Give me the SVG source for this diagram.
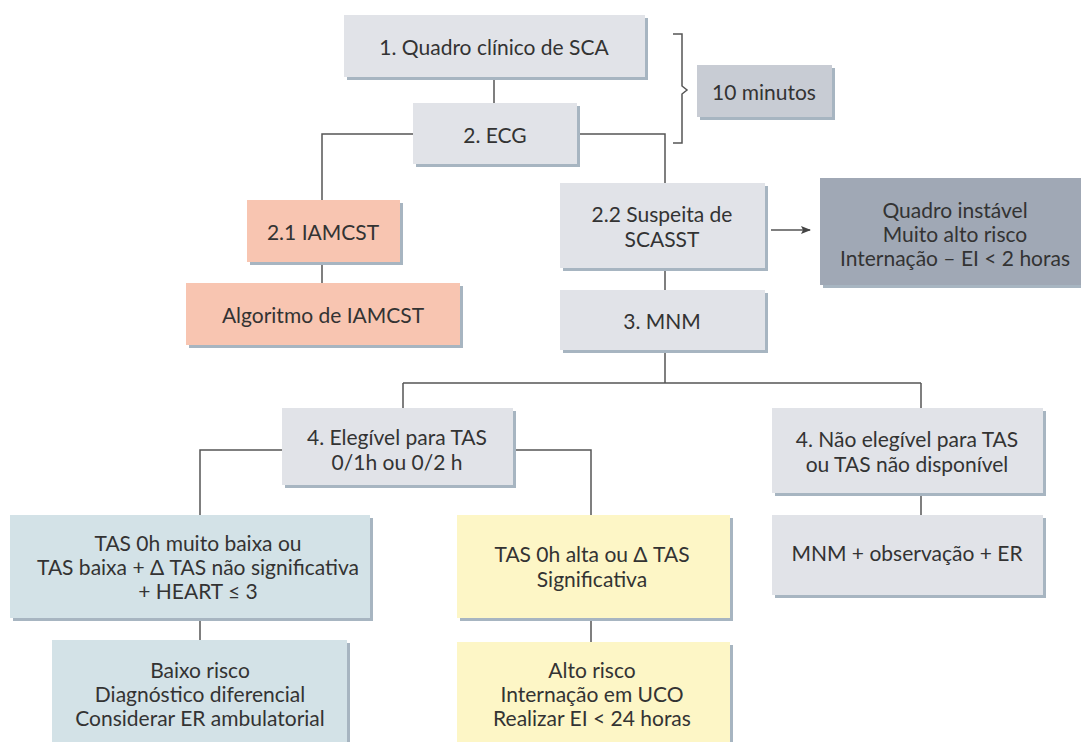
<svg xmlns="http://www.w3.org/2000/svg" width="1081" height="742" viewBox="0 0 1081 742">
<defs>
<marker id="arr" viewBox="0 0 10 10" refX="9" refY="5" markerWidth="10" markerHeight="10" orient="auto" markerUnits="userSpaceOnUse"><path d="M0,1 L10,5 L0,9 L2,5 Z" fill="#444"/></marker>
</defs>
<style>
.sh{fill:#a7b5c1}
.g{fill:#e1e3e8}
.d{fill:#c8ccd4}
.dk{fill:#a0a8b5}
.s{fill:#f8c5b1}
.b{fill:#d3e2e7}
.y{fill:#fdf6c6}
text{font-family:Lato,"Open Sans",sans-serif;font-size:21px;fill:#333;text-anchor:middle;dominant-baseline:central}
.c{fill:none;stroke:#555;stroke-width:1.5}
</style>
<rect width="1081" height="742" fill="#fff"/>
<g id="connectors">
<path class="c" d="M494,77 V103"/>
<path class="c" d="M413,134 H322 V200"/>
<path class="c" d="M322,262 V283"/>
<path class="c" d="M577,134 H665 V183"/>
<path class="c" d="M665,268 V290"/>
<path class="c" d="M665,350 V383 M403,383 H921 M403,383 V408 M921,383 V408"/>
<path class="c" d="M282,450 H200 V515"/>
<path class="c" d="M513,450 H591 V515"/>
<path class="c" d="M921,493 V515"/>
<path class="c" d="M200,618 V640"/>
<path class="c" d="M591,618 V642"/>
<path class="c" d="M771,230 H810" marker-end="url(#arr)"/>
<path class="c" stroke-width="1.2" d="M673,34 H682 V86 L687,90 L682,94 V143 H673"/>
</g>
<g id="n1"><rect class="sh" x="347" y="18" width="301" height="62"/><rect class="g" x="344" y="15" width="301" height="62"/><text x="494" y="46">1. Quadro clínico de SCA</text></g>
<g id="n2"><rect class="sh" x="416" y="106" width="164" height="61"/><rect class="g" x="413" y="103" width="164" height="61"/><text x="495" y="134">2. ECG</text></g>
<g id="n10"><rect class="sh" x="700" y="68" width="135" height="52"/><rect class="d" x="697" y="65" width="135" height="52"/><text x="764" y="91">10 minutos</text></g>
<g id="n21"><rect class="sh" x="250" y="203" width="153" height="62"/><rect class="s" x="247" y="200" width="153" height="62"/><text x="323" y="231">2.1 IAMCST</text></g>
<g id="nalg"><rect class="sh" x="189" y="286" width="274" height="62"/><rect class="s" x="186" y="283" width="274" height="62"/><text x="323" y="314">Algoritmo de IAMCST</text></g>
<g id="n22"><rect class="sh" x="563" y="186" width="205" height="85"/><rect class="g" x="560" y="183" width="205" height="85"/><text x="662" y="213">2.2 Suspeita de</text><text x="662" y="238">SCASST</text></g>
<g id="nqi"><rect class="sh" x="823" y="181" width="261" height="107"/><rect class="dk" x="820" y="178" width="261" height="107"/><text x="955" y="209">Quadro instável</text><text x="955" y="233">Muito alto risco</text><text x="955" y="257">Internação – EI &lt; 2 horas</text></g>
<g id="n3"><rect class="sh" x="563" y="293" width="205" height="60"/><rect class="g" x="560" y="290" width="205" height="60"/><text x="662" y="320">3. MNM</text></g>
<g id="n4a"><rect class="sh" x="285" y="411" width="231" height="77"/><rect class="g" x="282" y="408" width="231" height="77"/><text x="397" y="436">4. Elegível para TAS</text><text x="397" y="461">0/1h ou 0/2 h</text></g>
<g id="n4b"><rect class="sh" x="775" y="411" width="271" height="85"/><rect class="g" x="772" y="408" width="271" height="85"/><text x="907" y="438">4. Não elegível para TAS</text><text x="907" y="463">ou TAS não disponível</text></g>
<g id="nlow"><rect class="sh" x="13" y="518" width="360" height="103"/><rect class="b" x="10" y="515" width="360" height="103"/><text x="198" y="542">TAS 0h muito baixa ou</text><text x="198" y="566">TAS baixa + Δ TAS não significativa</text><text x="198" y="590">+ HEART ≤ 3</text></g>
<g id="nhigh"><rect class="sh" x="460" y="518" width="273" height="103"/><rect class="y" x="457" y="515" width="273" height="103"/><text x="592" y="553">TAS 0h alta ou Δ TAS</text><text x="592" y="578">Significativa</text></g>
<g id="nmnm"><rect class="sh" x="775" y="518" width="271" height="80"/><rect class="g" x="772" y="515" width="271" height="80"/><text x="907" y="552">MNM + observação + ER</text></g>
<g id="nbr"><rect class="sh" x="55" y="643" width="295" height="110"/><rect class="b" x="52" y="640" width="295" height="110"/><text x="200" y="669">Baixo risco</text><text x="200" y="693">Diagnóstico diferencial</text><text x="200" y="717">Considerar ER ambulatorial</text></g>
<g id="nar"><rect class="sh" x="460" y="645" width="273" height="110"/><rect class="y" x="457" y="642" width="273" height="110"/><text x="592" y="669">Alto risco</text><text x="592" y="693">Internação em UCO</text><text x="592" y="717">Realizar EI &lt; 24 horas</text></g>
</svg>
